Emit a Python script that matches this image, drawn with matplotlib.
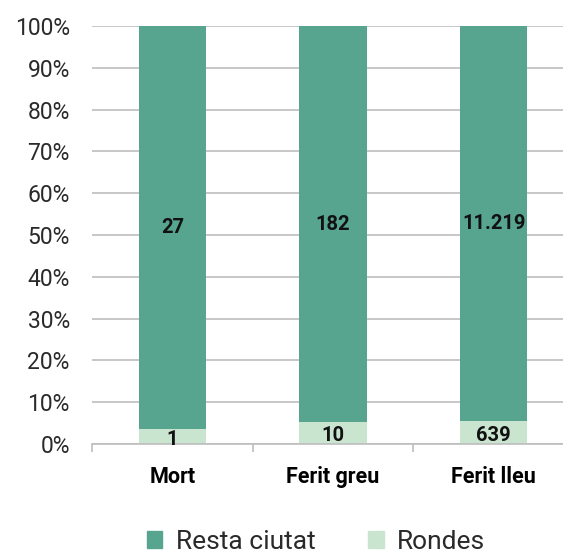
import numpy as np
import matplotlib.pyplot as plt
from matplotlib.patches import Patch

# dades
categories = ["Mort", "Ferit greu", "Ferit lleu"]
rondes = [1, 10, 639]
resta = [27, 182, 11219]
etiquetes_rondes = ["1", "10", "639"]
etiquetes_resta = ["27", "182", "11.219"]

c_resta = "#57a58f"
c_rondes = "#c9e5d0"

plt.rcParams["font.family"] = ["Roboto", "DejaVu Sans"]

tot = np.array(rondes) + np.array(resta)
p_rondes = np.array(rondes) / tot * 100
p_resta = np.array(resta) / tot * 100

fig = plt.figure(figsize=(5.63, 5.54), dpi=100)
ax = fig.add_axes([92 / 563, 1 - 444 / 554, (574 - 92) / 563, (444 - 26) / 554])

x = np.arange(len(categories))
w = 0.42
ax.bar(x, p_rondes, w, color=c_rondes, zorder=2)
ax.bar(x, p_resta, w, bottom=p_rondes, color=c_resta, zorder=2)

for i in range(len(x)):
    ax.text(x[i], p_rondes[i] / 2 - 0.6, etiquetes_rondes[i], ha="center", va="center",
            fontsize=14.5, fontweight="bold", color="#111111", zorder=3)
    ax.text(x[i], p_rondes[i] + p_resta[i] / 2, etiquetes_resta[i], ha="center", va="center",
            fontsize=14.5, fontweight="bold", color="#111111", zorder=3)

ax.set_xlim(-0.5, 2.5)
ax.set_ylim(0, 100)
ax.set_yticks(np.arange(0, 101, 10))
ax.set_yticklabels([f"{v}%" for v in range(0, 101, 10)], fontsize=16.5, color="#2a2a2a")
ax.tick_params(axis="y", length=0, pad=16)
ax.yaxis.grid(True, color="#bdbdbd", linewidth=1.2, zorder=0)
ax.set_axisbelow(True)

ax.set_xticks([-0.5, 0.5, 1.5, 2.5])
ax.set_xticklabels([])
ax.tick_params(axis="x", length=6, color="#bdbdbd", width=1.2)
ax.set_xticks(x, minor=True)
ax.set_xticklabels(categories, minor=True, fontsize=15.5, fontweight="bold")
ax.tick_params(axis="x", which="minor", length=0, pad=16)

for s in ["top", "right", "left"]:
    ax.spines[s].set_visible(False)
ax.spines["bottom"].set_color("#bdbdbd")
ax.spines["bottom"].set_linewidth(1.2)

handles = [Patch(color=c_resta, label="Resta ciutat"), Patch(color=c_rondes, label="Rondes")]
leg = fig.legend(handles=handles, loc="center", bbox_to_anchor=(316 / 563, 1 - 542 / 554), ncol=2,
                 frameon=False, prop={"size": 19}, handlelength=0.6,
                 handleheight=0.6, handletextpad=0.5, columnspacing=2.0)
for t in leg.get_texts():
    t.set_color("#2a2a2a")

fig.savefig("out.png", dpi=100)
